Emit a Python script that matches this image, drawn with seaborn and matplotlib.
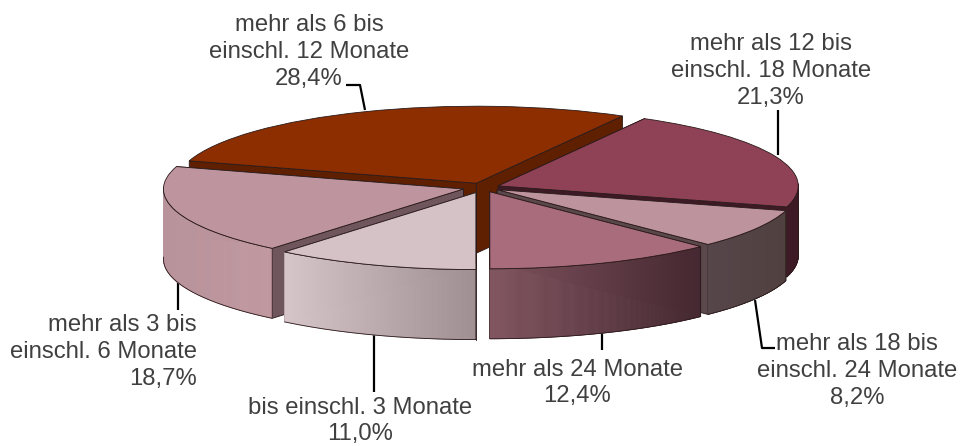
import numpy as np
import matplotlib
matplotlib.use("Agg")
import matplotlib.pyplot as plt
from matplotlib.collections import PolyCollection
from matplotlib.colors import to_rgb
import seaborn as sns

categories = ["bis einschl. 3 Monate", "mehr als 3 bis\neinschl. 6 Monate",
              "mehr als 6 bis\neinschl. 12 Monate", "mehr als 12 bis\neinschl. 18 Monate",
              "mehr als 18 bis\neinschl. 24 Monate", "mehr als 24 Monate"]
values = [11.0, 18.7, 28.4, 21.3, 8.2, 12.4]
value_labels = ["11,0%", "18,7%", "28,4%", "21,3%", "8,2%", "12,4%"]

top_colors = ["#D5C2C6", "#BE959E", "#8C2E00", "#8F4256", "#BD939D", "#A96C7C"]
face_colors = ["#A09093", "#6F565C", "#5E2000", "#3E1A26", "#5A484D", "#4A2A33"]
wall_left = ["#D6C5C9", "#B8939B", "#5E2000", "#3E1A26", "#56464A", "#80545F"]
wall_right = ["#9F8F92", "#C0979F", "#5E2000", "#3E1A26", "#50403F", "#452831"]
draw_order = [2, 3, 1, 4, 5, 0]
explode = [0.07, 0.068, 0.06, 0.055, 0.055, 0.06]

W, H = 960, 446
CX, CY, RX, RY, DEPTH = 483.0, 187.5, 300.0, 77.0, 70.0


def px(x, y):
    return (x - CX) / RX, (CY - y) / RY


sns.set_theme(style="white")
plt.rcParams["font.family"] = ["Liberation Sans", "DejaVu Sans"]

fig = plt.figure(figsize=(W / 100, H / 100), dpi=100)
ax = fig.add_axes([0, 0, 1, 1])
wedges, _ = ax.pie(values, startangle=-90, counterclock=False, explode=explode,
                   colors=top_colors, radius=1.0,
                   wedgeprops=dict(edgecolor="#2A1A1A", linewidth=0.6))
ax.set_aspect("auto")
ax.set_xlim(-CX / RX, (W - CX) / RX)
ax.set_ylim((CY - H) / RY, CY / RY)
ax.axis("off")

d = DEPTH / RY
edge = dict(edgecolor="#2A1A1A", linewidth=0.6)

for rank, i in enumerate(draw_order):
    w = wedges[i]
    z = 2 + rank * 2
    w.set_zorder(z + 1)
    cx, cy = w.center
    a, b = np.radians(w.theta1), np.radians(w.theta2)
    # cut faces: the one further back on screen goes first
    for ang in sorted((a, b), key=lambda v: -np.sin(v)):
        ex, ey = cx + np.cos(ang), cy + np.sin(ang)
        quad = [(cx, cy), (ex, ey), (ex, ey - d), (cx, cy - d)]
        ax.add_patch(plt.Polygon(quad, closed=True, facecolor=face_colors[i], zorder=z, **edge))
    # outer wall, front half only
    t = np.linspace(a, b, 241)
    t = t[np.sin(t) <= 0.03]
    if t.size > 1:
        xs, ys = cx + np.cos(t), cy + np.sin(t)
        c0, c1 = np.array(to_rgb(wall_left[i])), np.array(to_rgb(wall_right[i]))
        f = (xs - xs.min()) / (xs.max() - xs.min())
        polys, cols = [], []
        for k in range(len(t) - 1):
            polys.append([(xs[k], ys[k]), (xs[k + 1], ys[k + 1]),
                          (xs[k + 1], ys[k + 1] - d), (xs[k], ys[k] - d)])
            cols.append(c0 + (c1 - c0) * (f[k] + f[k + 1]) / 2)
        ax.add_collection(PolyCollection(polys, facecolors=cols, edgecolors=cols,
                                         linewidths=0.5, zorder=z + 0.5))
        outline = np.r_[np.c_[xs, ys], np.c_[xs[::-1], ys[::-1] - d]]
        ax.plot(outline[:, 0], outline[:, 1], color="#2A1A1A", lw=0.6, zorder=z + 0.6)

# leader lines
leaders = [
    [(374, 335), (374, 392)],
    [(178, 282), (178, 310)],
    [(346, 85), (360, 85), (365, 110)],
    [(778, 110), (778, 155)],
    [(755, 300), (762, 348), (775, 348)],
    [(602, 333), (602, 350)],
]
for pts in leaders:
    xy = np.array([px(*p) for p in pts])
    ax.plot(xy[:, 0], xy[:, 1], color="black", lw=1.6, zorder=1, solid_capstyle="butt")

# labels
positions = [(360, 421, "center"), (197, 352, "right"), (309, 52, "center"),
             (771, 71, "center"), (857, 371, "center"), (577, 383, "center")]
for name, val, (x, y, ha) in zip(categories, value_labels, positions):
    tx, ty = px(x, y)
    ax.text(tx, ty, f"{name}\n{val}", ha=ha, va="center", multialignment=ha,
            fontsize=17.2, color="#404040", linespacing=1.29, zorder=30)

fig.savefig("out.png", dpi=100)
